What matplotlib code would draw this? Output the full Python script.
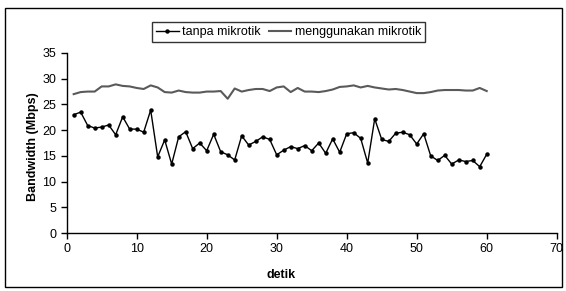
import matplotlib
matplotlib.use("Agg")
import matplotlib.pyplot as plt
from matplotlib.patches import Rectangle

plt.rcParams["font.family"] = ["Liberation Sans", "DejaVu Sans"]

# seconds 1..60
detik = list(range(1, 61))

tanpa_mikrotik = [
    23.0, 23.5, 20.9, 20.4, 20.6, 21.0, 19.1, 22.6, 20.2, 20.2,
    19.6, 23.9, 14.8, 18.1, 13.4, 18.7, 19.7, 16.4, 17.5, 16.0,
    19.2, 15.8, 15.2, 14.2, 18.9, 17.1, 17.8, 18.7, 18.2, 15.2,
    16.1, 16.8, 16.4, 17.0, 16.0, 17.5, 15.5, 18.3, 15.7, 19.3,
    19.5, 18.4, 13.6, 22.2, 18.2, 17.8, 19.4, 19.6, 19.1, 17.3,
    19.3, 15.0, 14.1, 15.1, 13.4, 14.2, 13.9, 14.1, 12.9, 15.3,
]

menggunakan_mikrotik = [
    27.0, 27.4, 27.5, 27.5, 28.5, 28.5, 28.9, 28.6, 28.5, 28.2,
    28.0, 28.7, 28.3, 27.4, 27.3, 27.7, 27.4, 27.3, 27.3, 27.5,
    27.5, 27.6, 26.1, 28.1, 27.5, 27.8, 28.0, 28.0, 27.6, 28.3,
    28.5, 27.4, 28.2, 27.5, 27.5, 27.4, 27.6, 27.9, 28.4, 28.5,
    28.7, 28.3, 28.6, 28.3, 28.1, 27.9, 28.0, 27.8, 27.5, 27.2,
    27.2, 27.4, 27.7, 27.8, 27.8, 27.8, 27.7, 27.7, 28.2, 27.6,
]

fig = plt.figure(figsize=(5.66, 2.91), dpi=100)
ax = fig.add_axes([0.1178, 0.1993, 0.8658, 0.6186])

l1, = ax.plot(detik, tanpa_mikrotik, color="black", linewidth=1.0,
              marker="o", markersize=2.2, label="tanpa mikrotik")
l2, = ax.plot(detik, menggunakan_mikrotik, color="#5a5a5a", linewidth=1.5,
              label="menggunakan mikrotik")

ax.set_xlim(0, 70)
ax.set_ylim(0, 35)
ax.set_xticks(range(0, 71, 10))
ax.set_yticks(range(0, 36, 5))
ax.tick_params(direction="out", length=4, width=1, labelsize=9, colors="black")
for side in ["top", "right"]:
    ax.spines[side].set_visible(False)
for side in ["left", "bottom"]:
    ax.spines[side].set_linewidth(1)

fig.text(0.497, 0.055, "detik", ha="center", va="center",
         fontsize=9, fontweight="bold")
fig.text(0.058, 0.495, "Bandwidth (Mbps)", ha="center", va="center",
         rotation=90, fontsize=9, fontweight="bold")

leg = fig.legend(handles=[l1, l2], loc="center", bbox_to_anchor=(0.51, 0.89),
                 ncol=2, fontsize=9, frameon=True, fancybox=False,
                 handlelength=1.8, handletextpad=0.3, columnspacing=0.6,
                 borderpad=0.3, borderaxespad=0)
leg.get_frame().set_edgecolor("black")
leg.get_frame().set_linewidth(1)

# outer chart border
fig.patches.append(Rectangle((0.009, 0.014), 0.984, 0.958, transform=fig.transFigure,
                             fill=False, edgecolor="black", linewidth=1))

fig.savefig("out.png", dpi=100)
